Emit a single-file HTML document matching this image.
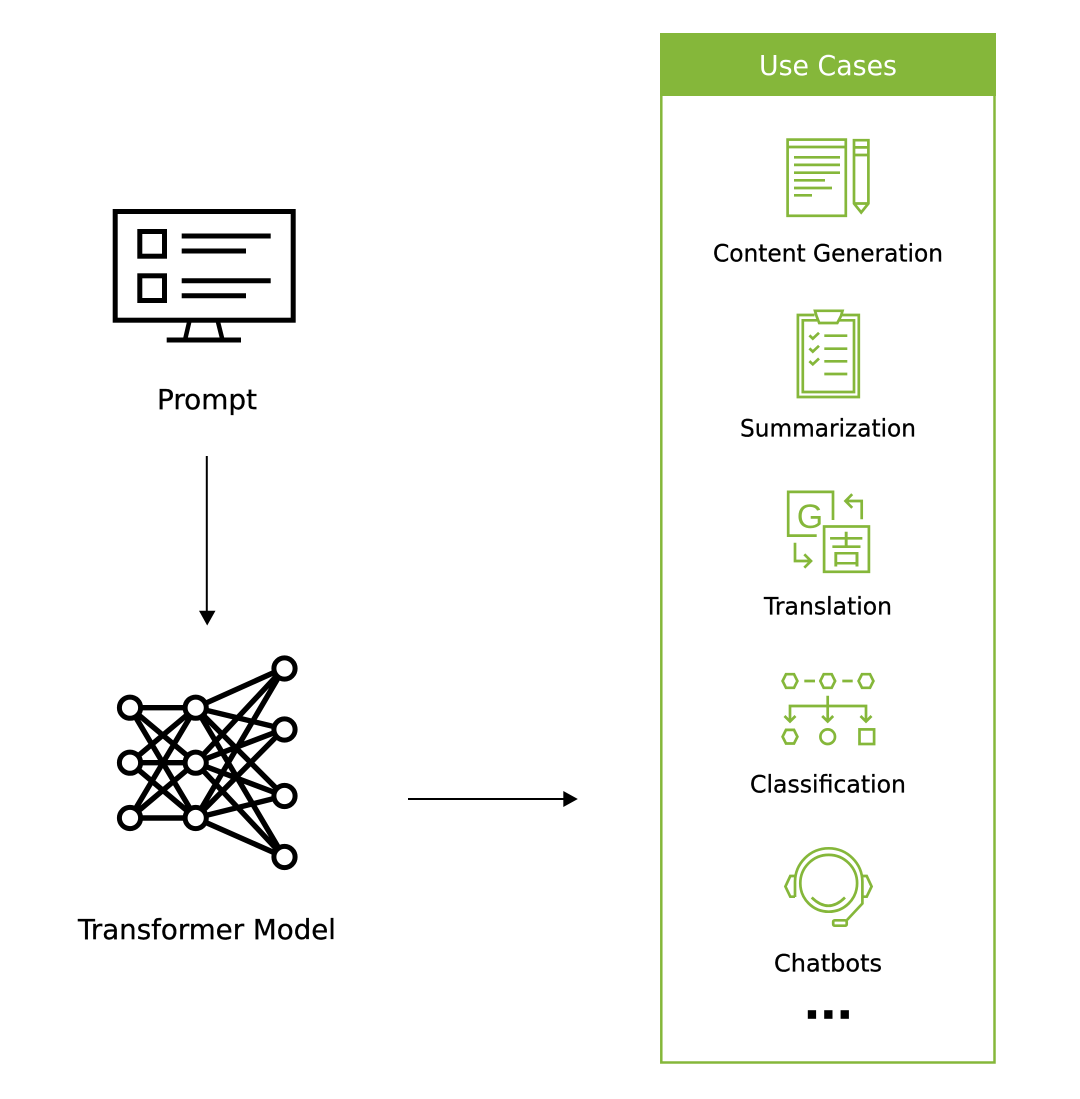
<!DOCTYPE html>
<html lang="en">
<head>
<meta charset="utf-8">
<title>Transformer Model Use Cases</title>
<style>
html,body{margin:0;padding:0;background:#fff;width:1080px;height:1099px;overflow:hidden}
svg{display:block}
.t{font-family:"DejaVu Sans","Liberation Sans","Noto Sans CJK SC",sans-serif;font-size:24px;fill:#000;stroke:#000;stroke-width:.3}
.l{font-size:27.5px}
.g{fill:none;stroke:#85b73a;stroke-width:2.7}
.k{fill:none;stroke:#000}
</style>
</head>
<body>
<svg width="1080" height="1099" viewBox="0 0 1080 1099" xmlns="http://www.w3.org/2000/svg">
<rect width="1080" height="1099" fill="#fff"/>

<!-- Monitor -->
<g class="k" stroke-width="5">
<rect x="115.2" y="211.5" width="178" height="108.7"/>
<rect x="139.8" y="231.5" width="24.7" height="24.7"/>
<rect x="139.8" y="275.8" width="24.7" height="24.7"/>
<path d="M181.7 236H270.7M181.7 251H246M181.7 280.7H270.7M181.7 295.7H246M166.7 340H241"/>
<path d="M189.2 322L185 340M218 322L222.5 340" stroke-width="4.5"/>
</g>
<text class="t l" x="157" y="409" textLength="100" lengthAdjust="spacingAndGlyphs">Prompt</text>

<!-- Down arrow -->
<path d="M206.8 456V612" stroke="#000" stroke-width="2" fill="none"/>
<path d="M199 610.7H215.5L207.2 625.5Z" fill="#000"/>

<!-- Neural network -->
<g class="k" stroke-width="5.4">
<path d="M130 707.7L195.7 707.7M130 707.7L195.7 762.7M130 707.7L195.7 818
M130 762.7L195.7 707.7M130 762.7L195.7 762.7M130 762.7L195.7 818
M130 818L195.7 707.7M130 818L195.7 762.7M130 818L195.7 818
M195.7 707.7L284 668M195.7 707.7L284 729M195.7 707.7L284 796M195.7 707.7L284 857
M195.7 762.7L284 668M195.7 762.7L284 729M195.7 762.7L284 796M195.7 762.7L284 857
M195.7 818L284 668M195.7 818L284 729M195.7 818L284 796M195.7 818L284 857"/>
<g fill="#fff" stroke-width="5">
<circle cx="130" cy="707.7" r="10.6"/><circle cx="130" cy="762.7" r="10.6"/><circle cx="130" cy="818" r="10.6"/>
<circle cx="195.7" cy="707.7" r="10.6"/><circle cx="195.7" cy="762.7" r="10.6"/><circle cx="195.7" cy="818" r="10.6"/>
<circle cx="284.5" cy="668.5" r="10.6"/><circle cx="284.5" cy="729.5" r="10.6"/><circle cx="284.5" cy="796" r="10.6"/><circle cx="284.5" cy="857" r="10.6"/>
</g>
</g>
<text class="t l" x="78" y="939" textLength="258" lengthAdjust="spacingAndGlyphs">Transformer Model</text>

<!-- Right arrow -->
<path d="M408 799H565" stroke="#000" stroke-width="2" fill="none"/>
<path d="M563.3 791V807L577.8 799Z" fill="#000"/>

<!-- Panel -->
<rect x="661.3" y="34.3" width="333.2" height="1028.2" fill="none" stroke="#85b73a" stroke-width="2.5"/>
<rect x="660" y="33" width="336" height="63" fill="#85b73a"/>
<text x="759" y="75" textLength="138" lengthAdjust="spacingAndGlyphs" font-family="'DejaVu Sans','Liberation Sans',sans-serif" font-size="28" fill="#fff">Use Cases</text>

<!-- Content generation icon -->
<g class="g">
<rect x="787.6" y="139.6" width="58.2" height="76.2"/>
<path d="M787.4 147H846M794 157.3H840M794 164.9H840M794 172.7H840M794 180.3H825M794 188H832M794 195.3H812"/>
<path d="M854 140.2H868.4V203.5L861.2 212.5L854 203.5ZM854 147.4H868.4M854 155H868.4M854 203.5H868.4"/>
</g>
<text class="t" x="713" y="261.7" textLength="230" lengthAdjust="spacingAndGlyphs">Content Generation</text>

<!-- Summarization icon -->
<g class="g">
<path d="M814.5 315H797.9V397H858.8V315H842"/>
<path d="M817 320.3H802.8V392H854V320.3H839.5"/>
<path d="M815 310.8H842.5L841 316L837.3 323H819.2L816.5 316Z"/>
<path d="M824.3 335.7H847.3M824.3 348.7H847.3M824.3 361.3H847.3M824.3 374H847.3"/>
<path d="M809.4 335.4L812.8 338.6L819 332.8M809.4 348.4L812.8 351.6L819 345.8M809.4 361.1L812.8 364.3L819 358.5"/>
</g>
<text class="t" x="740" y="436.7" textLength="176" lengthAdjust="spacingAndGlyphs">Summarization</text>

<!-- Translation icon -->
<g class="g">
<path d="M816.7 535.6H788.2V491.9H833V520"/>
<rect x="824.1" y="526.5" width="44.8" height="45.3"/>
<path d="M861.7 519.3V501H845.5M852.2 494.2L845.5 501L852.2 507.8"/>
<path d="M795 542.7V561H811M804.3 554.3L811 561L804.3 567.7"/>
</g>
<text x="810" y="528" text-anchor="middle" font-family="'Liberation Sans',sans-serif" font-size="34" fill="#85b73a">G</text>
<text x="846.3" y="563" text-anchor="middle" font-family="'Noto Sans CJK SC',sans-serif" font-size="37" fill="#85b73a">吉</text>
<text class="t" x="764" y="614.7" textLength="128" lengthAdjust="spacingAndGlyphs">Translation</text>

<!-- Classification icon -->
<g class="g" stroke-width="2.9">
<path d="M782.6 681L786 674.2H794L797.4 681L794 687.8H786Z"/>
<path d="M820.3 681L823.7 674.2H831.7L835.1 681L831.7 687.8H823.7Z"/>
<path d="M858.6 681L862 674.2H870L873.4 681L870 687.8H862Z"/>
<path d="M804.3 681H815M842.3 681H852.7"/>
<path d="M827.7 695.7V721M790 721V706H866V721"/>
<path d="M784.5 716L790 721.5L795.5 716M822.2 716L827.7 721.5L833.2 716M860.5 716L866 721.5L871.5 716"/>
<path d="M782.6 736.7L786 729.9H794L797.4 736.7L794 743.5H786Z"/>
<circle cx="827.7" cy="736.7" r="7.3"/>
<rect x="859.5" y="729.4" width="14.6" height="14.6"/>
</g>
<text class="t" x="750" y="792.7" textLength="156" lengthAdjust="spacingAndGlyphs">Classification</text>

<!-- Chatbot icon -->
<g class="g">
<circle cx="828.7" cy="883.3" r="28.4"/>
<path d="M795 897V882A33.7 33.7 0 0 1 862.4 882V903.5L847 920"/>
<path d="M795 876H790.3L785.4 886.5L790.3 896.7H795"/>
<path d="M862.4 876H866.7L871.6 886.5L866.7 896.7H862.4"/>
<path d="M811.7 897.5Q828.4 914 845 897.5"/>
<rect x="833.2" y="920.3" width="13.5" height="5.4" rx="1.5"/>
</g>
<text class="t" x="774" y="971.7" textLength="108" lengthAdjust="spacingAndGlyphs">Chatbots</text>

<!-- Dots -->
<rect x="807.8" y="1010.2" width="8.3" height="8.6" fill="#000"/>
<rect x="824.2" y="1010.2" width="8.3" height="8.6" fill="#000"/>
<rect x="840.6" y="1010.2" width="8.3" height="8.6" fill="#000"/>
</svg>
</body>
</html>
